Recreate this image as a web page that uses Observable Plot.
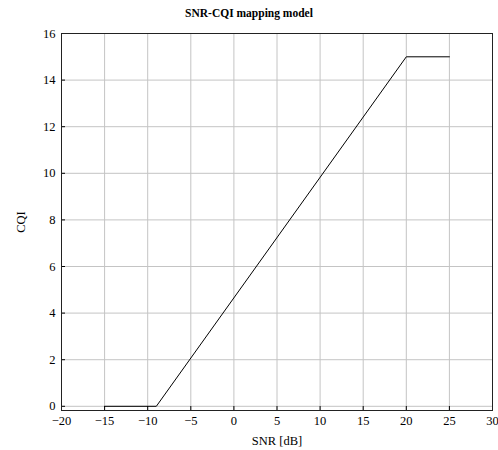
<!DOCTYPE html>
<html><head><meta charset="utf-8">
<script src="https://cdn.jsdelivr.net/npm/d3@7"></script>
<script src="https://cdn.jsdelivr.net/npm/@observablehq/plot@0.6"></script>
<style>
body{margin:0;background:#fff;}
#title{height:24px;width:498px;text-align:center;font:bold 11.5px "Liberation Serif","DejaVu Serif",serif;line-height:26px;}
svg, svg text, svg g{font-family:"Liberation Serif","DejaVu Serif",serif !important;}
</style></head><body>
<div id="title">SNR-CQI mapping model</div>
<div id="chart"></div>
<script>
const snr = [-15, -9, 20, 25];
const cqi = [0, 0, 15, 15];
const xTicks = [-20, -15, -10, -5, 0, 5, 10, 15, 20, 25, 30];
const yTicks = [0, 2, 4, 6, 8, 10, 12, 14, 16];
const data = snr.map((s, i) => ({snr: s, cqi: cqi[i]}));
const fmt = d => d < 0 ? "\u2212" + Math.abs(d) : String(d);
const chart = Plot.plot({
  width: 498, height: 426,
  marginLeft: 61, marginRight: 6, marginTop: 9, marginBottom: 40,
  style: {fontSize: "12px", color: "#000"},
  x: {domain: [-20, 30]},
  y: {domain: [-0.18, 16]},
  marks: [
    Plot.gridX(xTicks, {stroke: "#c4c4c4", strokeOpacity: 1}),
    Plot.gridY(yTicks, {stroke: "#c4c4c4", strokeOpacity: 1}),
    Plot.axisX(xTicks, {anchor: "bottom", tickSize: -4, tickPadding: 10, tickFormat: fmt, label: "SNR [dB]", labelAnchor: "center", labelArrow: "none", labelOffset: 34, fontSize: 12.5}),
    Plot.axisY(yTicks, {anchor: "left", tickSize: -4, tickPadding: 10, tickFormat: fmt, label: "CQI", labelAnchor: "center", labelArrow: "none", labelOffset: 45, fontSize: 12.5}),
    Plot.line(data, {x: "snr", y: "cqi", stroke: "#000", strokeWidth: 1}),
    Plot.frame({stroke: "#222"})
  ]
});
document.getElementById("chart").appendChild(chart);
</script></body></html>
